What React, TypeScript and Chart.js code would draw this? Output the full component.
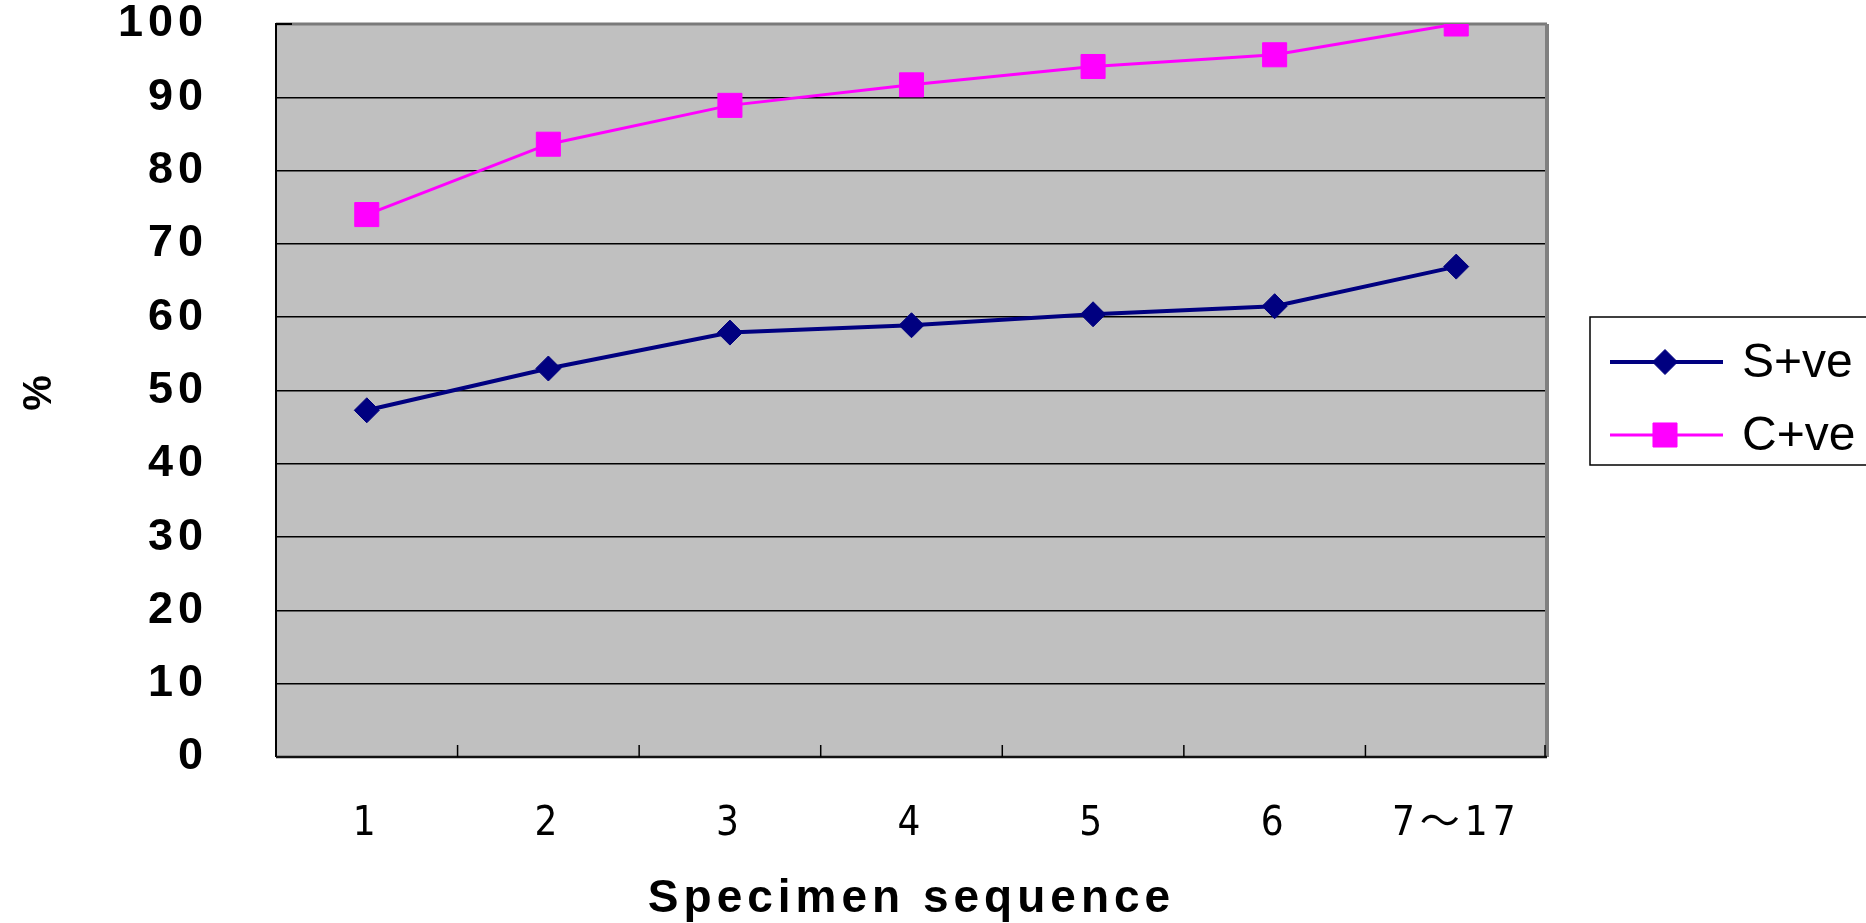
import React, { useEffect, useRef } from "react";
import { Chart, registerables } from "chart.js";
import { drawPoint } from "chart.js/helpers";

Chart.register(...registerables);

const categories = ["1", "2", "3", "4", "5", "6", "7～17"];
const sPositive = [47.3, 53.0, 57.9, 58.9, 60.4, 61.5, 66.9];
const cPositive = [74.0, 83.6, 88.9, 91.7, 94.2, 95.8, 100];
const seriesNames = ["S+ve", "C+ve"];
const yMin = 0;
const yMax = 100;
const yStep = 10;
const xTitle = "Specimen sequence";
const yTitle = "%";

const FONT = "'Liberation Sans', 'Noto Sans CJK JP', Arial, sans-serif";
const NARROW = "'Liberation Sans Narrow', 'DejaVu Sans Condensed', 'Liberation Sans', 'Noto Sans CJK JP', sans-serif";
const NAVY = "#000080";
const MAGENTA = "#ff00ff";
const PLOT_BG = "#c0c0c0";

const spacingPlugin = {
  id: "spacing",
  beforeUpdate(chart: any) {
    chart.ctx.letterSpacing = "5px";
  },
  beforeDraw(chart: any) {
    chart.ctx.letterSpacing = "5px";
    const { ctx, chartArea } = chart;
    ctx.save();
    ctx.fillStyle = PLOT_BG;
    ctx.fillRect(chartArea.left, chartArea.top, chartArea.right - chartArea.left, chartArea.bottom - chartArea.top);
    ctx.restore();
  },
};

const framePlugin = {
  id: "frame",
  beforeDatasetsDraw(chart: any) {
    const { ctx, chartArea } = chart;
    const { left, right, top, bottom } = chartArea;
    const x = chart.scales.x;
    ctx.save();
    ctx.strokeStyle = "#7a7a7a";
    ctx.lineWidth = 3;
    ctx.beginPath();
    ctx.moveTo(left, top);
    ctx.lineTo(right, top);
    ctx.stroke();
    ctx.strokeStyle = "#808080";
    ctx.lineWidth = 4;
    ctx.beginPath();
    ctx.moveTo(right, top);
    ctx.lineTo(right, bottom);
    ctx.stroke();
    ctx.strokeStyle = "#000";
    ctx.lineWidth = 2;
    ctx.beginPath();
    ctx.moveTo(left, top - 1);
    ctx.lineTo(left, bottom);
    ctx.stroke();
    ctx.beginPath();
    ctx.moveTo(left, top);
    ctx.lineTo(left + 16, top);
    ctx.stroke();
    ctx.lineWidth = 2.5;
    ctx.strokeStyle = "#111";
    ctx.beginPath();
    ctx.moveTo(left, bottom);
    ctx.lineTo(right, bottom);
    ctx.stroke();
    ctx.lineWidth = 1.5;
    ctx.strokeStyle = "#000";
    for (let i = 1; i <= categories.length; i++) {
      const px = i < categories.length
        ? (x.getPixelForValue(i - 1) + x.getPixelForValue(i)) / 2
        : right - 2;
      ctx.beginPath();
      ctx.moveTo(px, bottom);
      ctx.lineTo(px, bottom - 12);
      ctx.stroke();
    }
    ctx.restore();
  },
};

const legendPlugin = {
  id: "boxLegend",
  afterDraw(chart: any) {
    const { ctx } = chart;
    ctx.save();
    ctx.letterSpacing = "0px";
    const bx = 1590;
    const by = 317;
    const bw = 290;
    const bh = 148;
    ctx.strokeStyle = "#000";
    ctx.lineWidth = 1.5;
    ctx.strokeRect(bx, by, bw, bh);
    const rows = [362, 435];
    chart.data.datasets.forEach((ds: any, i: number) => {
      const y = rows[i];
      ctx.strokeStyle = ds.borderColor;
      ctx.lineWidth = ds.borderWidth;
      ctx.beginPath();
      ctx.moveTo(1610, y);
      ctx.lineTo(1723, y);
      ctx.stroke();
      ctx.fillStyle = ds.pointBackgroundColor;
      ctx.strokeStyle = ds.pointBorderColor;
      ctx.lineWidth = 1;
      drawPoint(ctx, { pointStyle: ds.pointStyle, radius: ds.pointRadius, borderWidth: 1, rotation: 0 } as any, 1665, y);
      ctx.fillStyle = "#000";
      ctx.font = `48px ${FONT}`;
      ctx.textBaseline = "middle";
      ctx.textAlign = "left";
      ctx.fillText(ds.label, 1742, y + 2);
    });
    ctx.restore();
  },
};

export default function App() {
  const canvasRef = useRef<HTMLCanvasElement | null>(null);

  useEffect(() => {
    document.body.style.margin = "0";
    const canvas = canvasRef.current;
    if (!canvas) return;
    Chart.defaults.font.family = FONT;
    const chart = new Chart(canvas, {
      type: "line",
      data: {
        labels: categories,
        datasets: [
          {
            label: seriesNames[0],
            data: sPositive,
            borderColor: NAVY,
            backgroundColor: NAVY,
            borderWidth: 4,
            pointStyle: "rectRot",
            pointRadius: 12.5,
            pointHoverRadius: 12.5,
            pointBackgroundColor: NAVY,
            pointBorderColor: NAVY,
            pointBorderWidth: 1,
            tension: 0,
          },
          {
            label: seriesNames[1],
            data: cPositive,
            borderColor: MAGENTA,
            backgroundColor: MAGENTA,
            borderWidth: 3,
            pointStyle: "rect",
            pointRadius: 17,
            pointHoverRadius: 17,
            pointBackgroundColor: MAGENTA,
            pointBorderColor: MAGENTA,
            pointBorderWidth: 1,
            tension: 0,
          },
        ],
      },
      options: {
        responsive: false,
        devicePixelRatio: 1,
        animation: false,
        layout: { padding: { left: 0, right: 319, top: 0, bottom: 0 } },
        plugins: {
          legend: { display: false },
          tooltip: { enabled: false },
        },
        scales: {
          x: {
            type: "category",
            offset: true,
            grid: { display: false, drawTicks: false },
            border: { display: false },
            ticks: {
              color: "#000",
              padding: 48,
              font: { size: 40, family: NARROW, lineHeight: 1.0 },
              maxRotation: 0,
              autoSkip: false,
            },
            title: {
              display: true,
              text: xTitle,
              color: "#000",
              font: { size: 46, weight: "bold", family: FONT, lineHeight: 1.05 },
              padding: { top: 0, bottom: 0 },
            },
            afterFit: (scale: any) => {
              scale.height = 166;
            },
          },
          y: {
            min: yMin,
            max: yMax,
            grid: {
              drawTicks: false,
              lineWidth: 1.5,
              color: (c: any) =>
                c.tick && (c.tick.value === yMin || c.tick.value === yMax) ? "rgba(0,0,0,0)" : "#000",
            },
            border: { display: false },
            ticks: {
              stepSize: yStep,
              color: "#000",
              padding: 68,
              font: { size: 45, weight: "bold", family: FONT, lineHeight: 1.1 },
            },
            title: {
              display: true,
              text: yTitle,
              color: "#000",
              font: { size: 40, weight: "bold", family: FONT },
              padding: { top: 16, bottom: 0 },
            },
            afterFit: (scale: any) => {
              scale.width = 276;
              scale.paddingTop = 24;
              scale.paddingBottom = 0;
            },
          },
        },
      },
      plugins: [spacingPlugin, framePlugin, legendPlugin],
    });
    return () => chart.destroy();
  }, []);

  return (
    <div style={{ width: 1866, height: 923, position: "relative" }}>
      <canvas ref={canvasRef} width={1866} height={923} style={{ display: "block" }} />
    </div>
  );
}
